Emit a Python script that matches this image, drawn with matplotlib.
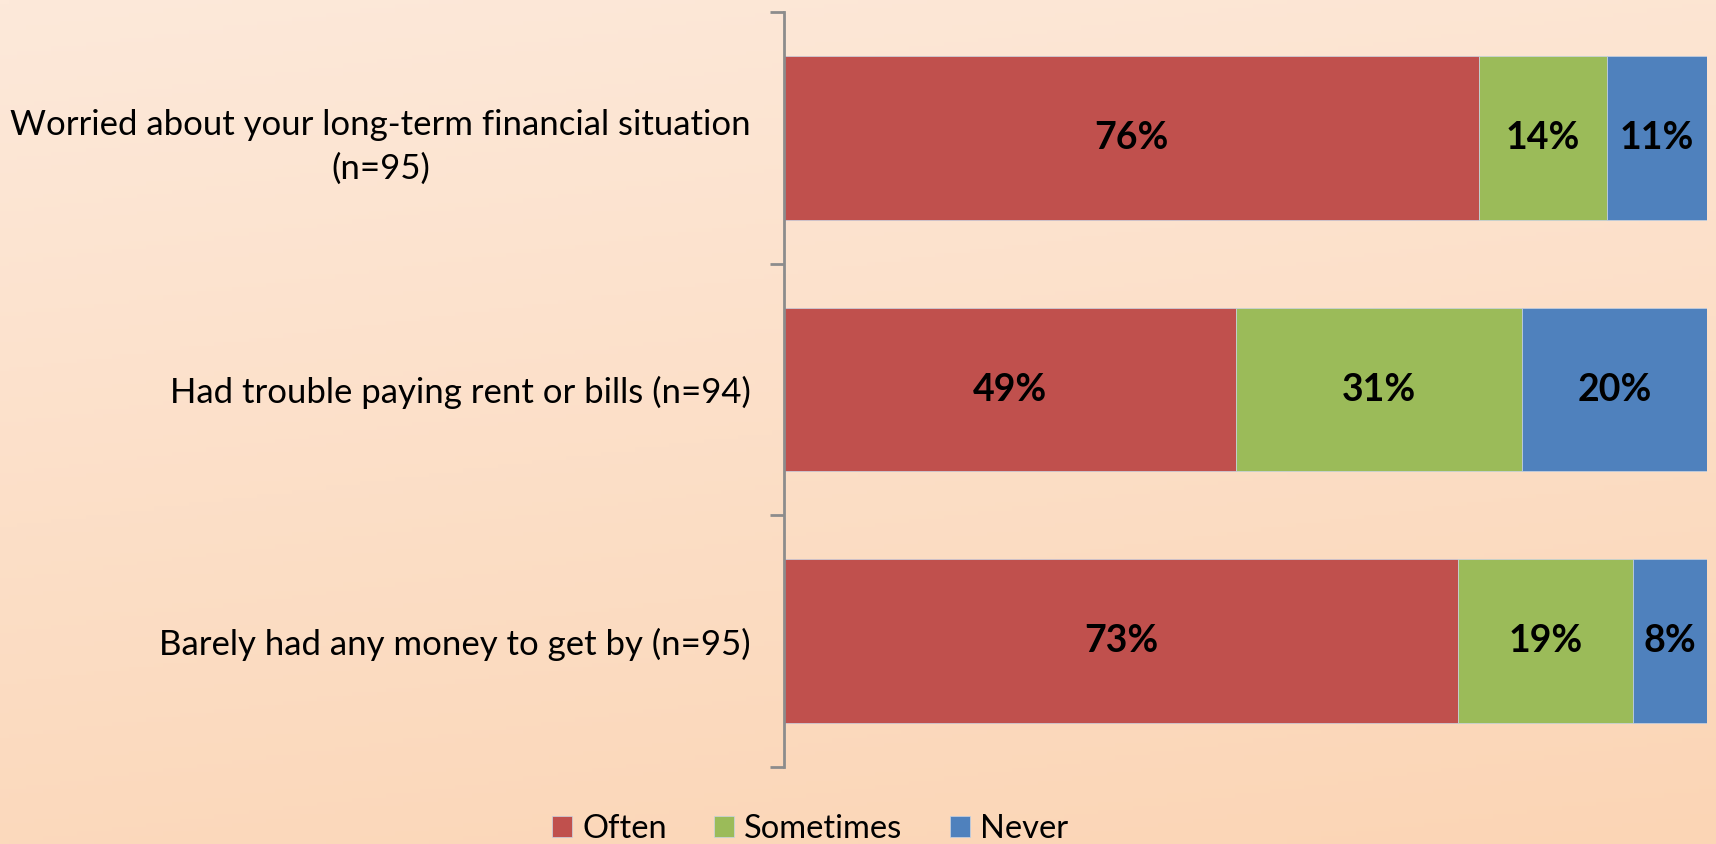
import numpy as np
import matplotlib
matplotlib.use('Agg')
import matplotlib.pyplot as plt

plt.rcParams['font.family'] = ['Lato', 'DejaVu Sans']

categories = ['Worried about your long-term financial situation\n(n=95)',
              'Had trouble paying rent or bills (n=94)',
              'Barely had any money to get by (n=95)']
series = ['Often', 'Sometimes', 'Never']
often = [76, 49, 73]
sometimes = [14, 31, 19]
never = [11, 20, 8]
colors = ['#C0504D', '#9BBB59', '#4F81BD']

data = np.array([often, sometimes, never], dtype=float)
shares = data / data.sum(axis=0)  # 100% stacked, like the original

fig = plt.figure(figsize=(17.16, 8.44), dpi=100)

# background gradient
bg = fig.add_axes([0, 0, 1, 1], zorder=-10)
yy, xx = np.mgrid[0:1:200j, 0:1:200j]
t = np.clip(0.8 * yy + 0.2 * xx, 0, 1)
top = np.array([253, 233, 218]) / 255
bottom = np.array([251, 213, 181]) / 255
img = top[None, None, :] * (1 - t[..., None]) + bottom[None, None, :] * t[..., None]
bg.imshow(img, aspect='auto', extent=[0, 1, 0, 1], origin='upper')
bg.axis('off')

ax = fig.add_axes([0.4569, 0.0912, 0.5379, 0.8946])
ax.patch.set_alpha(0)

y = np.arange(len(categories))
left = np.zeros(len(categories))
for i, name in enumerate(series):
    ax.barh(y, shares[i], left=left, height=0.65, color=colors[i], label=name,
            edgecolor='#C8D4E4', linewidth=0.5)
    for j in range(len(categories)):
        ax.text(left[j] + shares[i][j] / 2, y[j], f'{int(data[i][j])}%',
                ha='center', va='center', fontsize=27, fontweight='bold', color='black')
    left += shares[i]

ax.set_xlim(0, 1)
ax.set_ylim(len(categories) - 0.5, -0.5)
ax.set_xticks([])
ax.set_yticks(y)
ax.set_yticklabels(categories, fontsize=25, multialignment='center', linespacing=1.45)
ax.tick_params(axis='y', length=0, pad=24)
ax.set_yticks(np.arange(-0.5, len(categories)), minor=True)
ax.tick_params(axis='y', which='minor', length=10, width=2, color='#8C8C8C')
for s in ['top', 'right', 'bottom']:
    ax.spines[s].set_visible(False)
ax.spines['left'].set_color('#8C8C8C')
ax.spines['left'].set_linewidth(2)

fig.legend(loc='center', bbox_to_anchor=(0.472, 0.018), ncol=3, frameon=False,
           fontsize=23.5, handlelength=0.62, handleheight=0.62, handletextpad=0.3,
           columnspacing=1.45)

fig.savefig('out.png', dpi=100)
